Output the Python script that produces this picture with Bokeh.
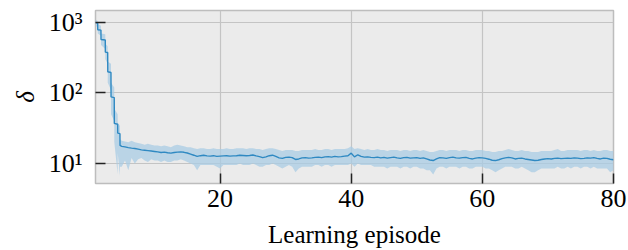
from bokeh.plotting import figure
from bokeh.models import FixedTicker, ColumnDataSource
from bokeh.embed import file_html
from bokeh.resources import INLINE

# ---- data ----
early_x = [1.0, 1.33, 1.34, 1.83, 1.84, 2.49, 2.5, 2.86, 2.87, 3.36, 3.37, 3.86, 3.87, 4.38, 4.39, 4.73, 4.74]
early_mean = [1000, 980, 790, 780, 575, 565, 380, 375, 200, 195, 88, 86, 37, 36, 27, 26.5, 18]
early_upper = [1100, 1050, 950, 900, 700, 680, 500, 460, 280, 260, 140, 120, 60, 50, 38, 34, 22]
early_lower = [900, 850, 700, 650, 480, 420, 300, 260, 140, 110, 50, 40, 20, 7, 14, 6.7, 9]

late_x = [5.0 + 0.5 * i for i in range(151)]
late_mean = [
    17.5, 17.2, 16.8, 16.5, 16.3, 16.0, 15.6, 15.4, 15.2, 15.0, 14.8,
    14.6, 14.3, 14.5, 14.2, 14.0, 14.3, 14.5, 14.6, 14.4, 14.1,
    13.6, 13.1, 12.6, 12.9, 13.1, 12.8, 12.7, 12.9, 12.6, 12.7,
    12.8, 12.9, 12.7, 12.8, 12.9, 13.1, 13.0, 12.9, 13.0, 13.2,
    12.8, 12.5, 12.1, 12.4, 12.9, 13.1, 12.6, 12.0, 11.8, 12.2,
    12.3, 12.1, 11.4, 11.6, 12.0, 12.1, 11.9, 12.0, 12.2, 12.3,
    12.1, 12.4, 12.5, 12.3, 12.6, 12.4, 12.5, 12.7, 12.9, 14.0,
    12.4, 13.3, 12.6, 12.3, 12.4, 12.2, 12.1, 12.3, 12.0, 12.2,
    11.9, 12.1, 12.3, 12.0, 11.8, 12.1, 12.2, 11.9, 12.0, 12.1,
    11.8, 12.0, 11.6, 11.2, 11.0, 11.6, 12.1, 12.0, 11.8, 12.1,
    12.3, 12.0, 11.9, 12.1, 12.2, 11.8, 11.6, 11.9, 12.1, 12.0,
    11.8, 11.5, 11.1, 11.0, 11.3, 11.7, 12.0, 12.2, 12.0, 11.6,
    11.8, 11.9, 11.6, 11.4, 11.2, 11.0, 11.1, 11.4, 11.6, 11.7,
    11.6, 11.8, 11.9, 11.7, 11.8, 11.9, 11.8, 12.0, 11.9, 11.7,
    11.8, 12.0, 11.9, 12.1, 11.8, 11.6, 11.9, 11.8, 11.5, 11.3,
]
late_upper = [
    21, 20.5, 20, 21, 20, 19.5, 19, 18.5, 19, 18.5, 18,
    18, 17.5, 18, 17.5, 17, 18, 18.5, 18, 17.5, 17,
    17, 16.5, 16, 16.5, 16.5, 16, 16, 16.5, 16, 16,
    16, 16.5, 16, 16, 16.5, 16.5, 16.5, 16, 16.5, 16.5,
    16, 16, 15.5, 16, 16.5, 16.5, 16, 15.5, 15, 15.5,
    15.5, 15.5, 15, 15, 15.5, 15.5, 15.5, 15.5, 16, 15.5,
    15.5, 16, 16, 15.5, 16, 16, 16, 16, 16.5, 17.5,
    16, 16.5, 16, 15.5, 16, 15.5, 15.5, 16, 15.5, 15.5,
    15, 15.5, 15.5, 15.5, 15, 15.5, 15.5, 15, 15.5, 15.5,
    15, 15.5, 15, 14.5, 14.5, 15, 15.5, 15.5, 15, 15.5,
    15.5, 15.5, 15, 15.5, 15.5, 15, 15, 15.5, 15.5, 15.5,
    15, 15, 14.5, 14.5, 15, 15, 15.5, 16, 15.5, 15,
    15, 15.5, 15, 15, 14.5, 14.5, 14.5, 15, 15, 15,
    15, 15.5, 16, 15, 15, 15.5, 15.5, 15.5, 15.5, 15,
    15.5, 15.5, 15, 15.5, 15, 15, 15.5, 15.5, 15, 15,
]
late_lower = [
    9, 11, 8, 12, 10, 11.5, 12, 11, 10.5, 11.5, 11,
    11, 10.5, 11, 10.5, 10.5, 11, 11, 11.5, 11, 10.5,
    10, 9.5, 8, 9.5, 9.5, 9.5, 9.5, 9.5, 9, 8.5,
    9.5, 9.5, 9.5, 9.5, 9.5, 10, 9.5, 9.5, 9.5, 10,
    9.5, 9, 9, 9.5, 9.5, 10, 9.5, 9, 8.5, 9,
    9.5, 9, 7.5, 8.5, 9, 9, 9, 9, 9.5, 9.5,
    9, 9.5, 9.5, 9, 9.5, 9.5, 9.5, 9.5, 9.5, 10,
    9, 10, 9.5, 9.5, 9.5, 9.5, 9, 9, 9, 9,
    8.5, 9, 9, 9, 8.5, 9, 9, 8.5, 9, 9,
    8.5, 8.5, 8, 8, 7, 8.5, 9, 9, 8.5, 9,
    9, 9, 8.5, 9, 9, 8.5, 8.5, 9, 9, 9,
    8.5, 8.5, 8, 7.5, 8, 8.5, 9, 9, 9, 8.5,
    8.5, 9, 8.5, 8, 7.5, 7.5, 8, 8.5, 8.5, 8.5,
    8.5, 8.5, 9, 8.5, 8.5, 9, 8.5, 9, 9, 8.5,
    9, 9, 8.5, 9, 8.5, 8.5, 8.5, 8.5, 7.5, 8,
]

episodes = early_x + late_x
delta_mean = early_mean + late_mean
delta_upper = early_upper + late_upper
delta_lower = early_lower + late_lower

x_ticks = [20, 40, 60, 80]
y_ticks = [10, 100, 1000]
y_tick_labels = {10: "10\u00b9", 100: "10\u00b2", 1000: "10\u00b3"}

src = ColumnDataSource(dict(x=episodes, m=delta_mean, lo=delta_lower, hi=delta_upper))

FONT = "Liberation Serif"

p = figure(width=628, height=250, y_axis_type="log",
           x_range=(1, 80), y_range=(5.2, 1480),
           output_backend="svg", toolbar_location=None,
           min_border_left=95, min_border_right=15, min_border_top=10, min_border_bottom=67)

p.background_fill_color = "#ebebeb"
p.border_fill_color = "white"
p.outline_line_color = "#bdbdbd"
p.outline_line_width = 1.5

p.varea(x="x", y1="lo", y2="hi", source=src, fill_color="#a9cce4", fill_alpha=0.75)
p.line(x="x", y="m", source=src, line_color="#2f89c2", line_width=1.4)

p.xaxis.ticker = FixedTicker(ticks=x_ticks)
p.yaxis.ticker = FixedTicker(ticks=y_ticks)
p.yaxis.major_label_overrides = y_tick_labels

p.xgrid.ticker = FixedTicker(ticks=x_ticks)
p.ygrid.ticker = FixedTicker(ticks=y_ticks)
for g in (p.xgrid, p.ygrid):
    g.grid_line_color = "#c4c4c4"
    g.grid_line_width = 1.2
    g.level = "underlay"

for ax in (p.xaxis, p.yaxis):
    ax.axis_line_color = None
    ax.major_tick_in = 10
    ax.major_tick_out = 0
    ax.major_tick_line_color = "#222222"
    ax.major_tick_line_width = 1.5
    ax.minor_tick_line_color = None
    ax.major_label_text_font = FONT
    ax.major_label_text_font_size = "26px"
    ax.major_label_text_color = "black"
    ax.axis_label_text_font = FONT
    ax.axis_label_text_font_size = "25px"
    ax.axis_label_text_font_style = "normal"
    ax.axis_label_text_color = "black"

p.xaxis.axis_label = "Learning episode"
p.xaxis.major_label_standoff = 6
p.xaxis.axis_label_standoff = 11
p.yaxis.axis_label = "\u03b4"
p.yaxis.axis_label_text_font_style = "italic"
p.yaxis.major_label_standoff = 13
p.yaxis.axis_label_standoff = 7

open("out.html", "w").write(file_html(p, INLINE))
